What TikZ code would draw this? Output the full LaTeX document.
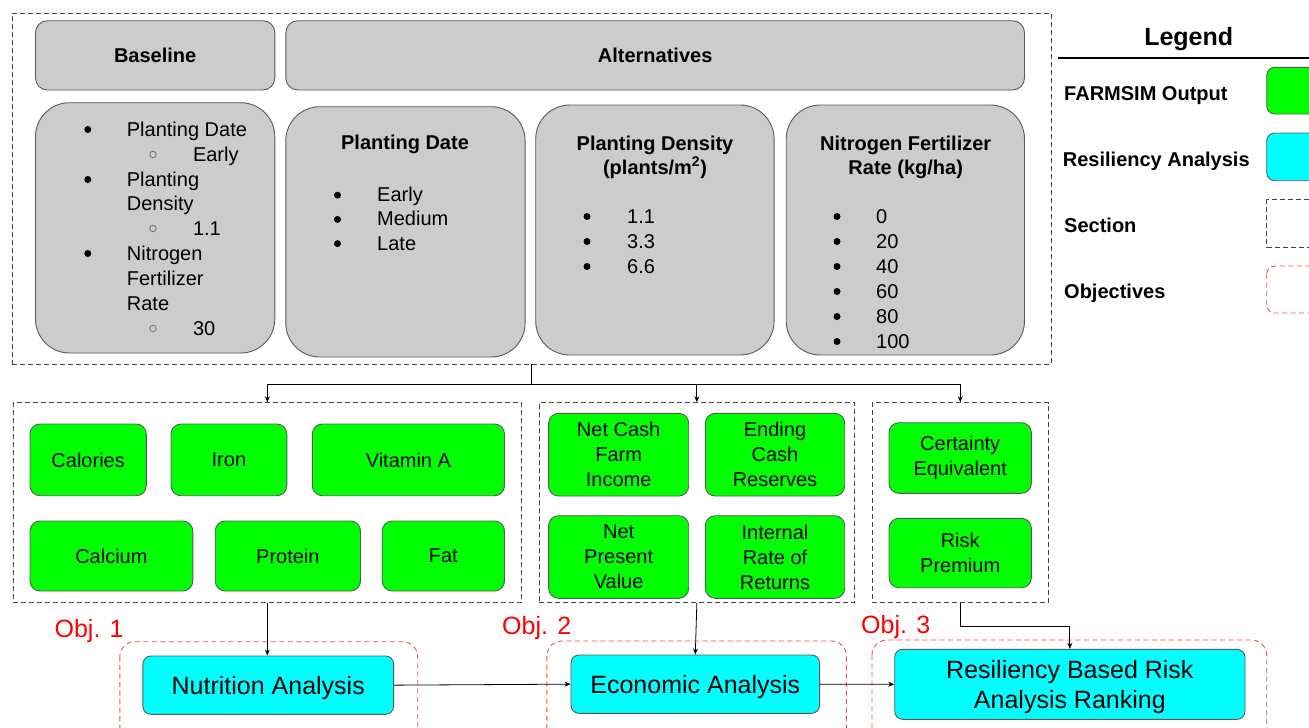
\documentclass[tikz,border=0pt]{standalone}
\usepackage{fontspec}
\setmainfont{Liberation Sans}
\usetikzlibrary{arrows.meta}
\newcommand{\setfs}[2]{\fontsize{#1}{#2}\selectfont}
\definecolor{boxgray}{HTML}{CCCCCC}
\definecolor{edgegray}{HTML}{5A5A5A}
\definecolor{outgreen}{HTML}{00FF00}
\definecolor{rescyan}{HTML}{00FFFF}
\definecolor{secline}{HTML}{444444}
\definecolor{objred}{HTML}{FF4A4A}
\definecolor{objtext}{HTML}{FF0000}
\tikzset{
  every node/.style={font=\setfs{20}{25}, inner sep=0pt},
  hdr/.style={draw=edgegray, fill=boxgray, line width=0.9pt, rounded corners=12pt, font=\bfseries\setfs{20}{25}},
  optbox/.style={draw=edgegray, fill=boxgray, line width=0.9pt, rounded corners=34pt},
  outbox/.style={draw=edgegray, fill=outgreen, line width=0.9pt, rounded corners=10pt, align=center},
  resbox/.style={draw=edgegray, fill=rescyan, line width=0.9pt, rounded corners=8pt, align=center, text depth=0pt, font=\setfs{25}{30}},
  section/.style={draw=secline, line width=0.9pt, dash pattern=on 5pt off 3pt},
  objective/.style={draw=objred, line width=0.9pt, dash pattern=on 5pt off 3.5pt, rounded corners=15pt},
  objlabel/.style={text=objtext, font=\setfs{25}{30}, anchor=base west},
  item/.style={anchor=base west},
  title/.style={anchor=base, font=\bfseries\setfs{20}{25}},
  dot/.style={circle, fill=black, minimum size=7pt},
  subdot/.style={circle, draw=black!60, line width=0.7pt, minimum size=6.5pt},
  link/.style={draw=black, line width=0.8pt},
  arr/.style={link, -{Stealth[length=6pt, width=5pt]}},
  legendlabel/.style={anchor=base west, font=\bfseries\setfs{20}{25}}
}
\begin{document}
\begin{tikzpicture}[x=1pt, y=-1pt]
\useasboundingbox (0,0) rectangle (1309,728);
\clip (0,0) rectangle (1309,728);

% ---------------- scenario section ----------------
\node[section, minimum width=1039pt, minimum height=351pt] (top) at (531.5,188.5) {};
\node[hdr, minimum width=239.3pt, minimum height=69.3pt] (basehdr) at (155.15,55.35) {Baseline};
\node[hdr, minimum width=738.7pt, minimum height=69.3pt] (althdr) at (655.15,55.35) {Alternatives};

\node[optbox, minimum width=239.3pt, minimum height=250.3pt] (basebox) at (155.15,227.85) {};
\node[optbox, minimum width=239.3pt, minimum height=250.3pt] (datebox) at (405.45,231.85) {};
\node[optbox, minimum width=238.4pt, minimum height=250pt] (densbox) at (654.9,230) {};
\node[optbox, minimum width=238.3pt, minimum height=250pt] (nitbox) at (905.35,230) {};

% baseline settings
\node[dot] (bb1) at (87.8,129.5) {};
\node[item] (bl1) at (126.7,136) {Planting Date};
\node[subdot] (bs1) at (153,154.5) {};
\node[item] (bl2) at (192.8,161) {Early};
\node[dot] (bb2) at (87.8,179.5) {};
\node[item] (bl3) at (126.7,186) {Planting};
\node[item] (bl4) at (126.7,210.5) {Density};
\node[subdot] (bs2) at (153,228.5) {};
\node[item] (bl5) at (192.8,235) {1.1};
\node[dot] (bb3) at (87.8,253.5) {};
\node[item] (bl6) at (126.7,260) {Nitrogen};
\node[item] (bl7) at (126.7,285) {Fertilizer};
\node[item] (bl8) at (126.7,310) {Rate};
\node[subdot] (bs3) at (153,328.5) {};
\node[item] (bl9) at (192.8,335) {30};

% planting date alternatives
\node[title] (datet) at (405,149.7) {Planting Date};
\foreach \t [count=\i] in {Early, Medium, Late} {
  \node[dot] (dd\i) at (337.5,{171+24.2*\i}) {};
  \node[item] (dl\i) at (377,{177.5+24.2*\i}) {\t};
}

% planting density alternatives
\node[title] (denst1) at (655,150) {Planting Density};
\node[title] (denst2) at (655,174) {(plants/m\textsuperscript{2})};
\foreach \t [count=\i] in {1.1, 3.3, 6.6} {
  \node[dot] (sd\i) at (587,{191.5+25*\i}) {};
  \node[item] (sl\i) at (627,{198+25*\i}) {\t};
}

% nitrogen rate alternatives
\node[title] (nitt1) at (905.7,150) {Nitrogen Fertilizer};
\node[title] (nitt2) at (905.7,174) {Rate (kg/ha)};
\foreach \t [count=\i] in {0, 20, 40, 60, 80, 100} {
  \node[dot] (nd\i) at (837,{191.5+25*\i}) {};
  \node[item] (nl\i) at (876,{198+25*\i}) {\t};
}

% ---------------- FARMSIM output sections ----------------
\node[section, minimum width=508.7pt, minimum height=199.6pt] (sec1) at (267.35,502.5) {};
\node[section, minimum width=315.7pt, minimum height=199.6pt] (sec2) at (696.85,502.5) {};
\node[section, minimum width=176.6pt, minimum height=199.6pt] (sec3) at (960.3,502.5) {};

\node[outbox, minimum width=116.3pt, minimum height=71.7pt] (cal) at (88.15,459.85) {Calories};
\node[outbox, minimum width=115.8pt, minimum height=71.7pt] (iron) at (228.9,459.85) {Iron};
\node[outbox, minimum width=192.2pt, minimum height=71.7pt] (vita) at (408.4,459.85) {Vitamin A};
\node[outbox, minimum width=162.8pt, minimum height=70pt] (calc) at (111.4,556) {Calcium};
\node[outbox, minimum width=145.3pt, minimum height=70pt] (prot) at (287.85,556) {Protein};
\node[outbox, minimum width=122.3pt, minimum height=70pt] (fat) at (443.35,556) {Fat};

\node[outbox, minimum width=140.1pt, minimum height=82.7pt] (ncfi) at (618.65,454.65) {Net Cash\\Farm\\Income};
\node[outbox, minimum width=139.4pt, minimum height=82.7pt] (ecr) at (775,454.65) {Ending\\Cash\\Reserves};
\node[outbox, minimum width=140.1pt, minimum height=82.6pt] (npv) at (618.65,557) {Net\\Present\\Value};
\node[outbox, minimum width=139.4pt, minimum height=82.6pt] (irr) at (775,557) {Internal\\Rate of\\Returns};

\node[outbox, minimum width=142.4pt, minimum height=70.6pt] (ce) at (960.2,458) {Certainty\\Equivalent};
\node[outbox, minimum width=142.4pt, minimum height=69.4pt] (rp) at (960.2,553) {Risk\\Premium};

% ---------------- objectives ----------------
\draw[objective] (119.8,641.7) rectangle (417.7,745);
\draw[objective] (546.9,641) rectangle (846.4,745);
\draw[objective] (872,640) rectangle (1266.7,745);
\node[objlabel] (obj1) at (54.4,637.3) {Obj. 1};
\node[objlabel] (obj2) at (502,634) {Obj. 2};
\node[objlabel] (obj3) at (861,633.3) {Obj. 3};

\node[resbox, minimum width=250.7pt, minimum height=58.3pt] (nut) at (268.25,685.15) {Nutrition Analysis};
\node[resbox, minimum width=248.6pt, minimum height=58.3pt] (econ) at (695.3,684.15) {Economic Analysis};
\node[resbox, minimum width=350.3pt, minimum height=70pt] (res) at (1069.85,684.3) {Resiliency Based Risk\\Analysis Ranking};

% ---------------- connectors ----------------
\draw[link] (top.south) -- ++(0,20) coordinate (split);
\draw[arr] (split) -| (sec1.north);
\draw[arr] (split) -| (sec2.north);
\draw[arr] (split) -| (sec3.north);
\draw[arr] (sec1.south) -- (sec1.south |- nut.north);
\draw[arr] (sec2.south) -- (econ.north);
\draw[arr] (sec3.south) -- ++(0,23.4) -| (res.north);
\draw[arr] (nut.east) -- (econ.west);
\draw[arr] (econ.east) -- (res.west);

% ---------------- legend ----------------
\node[anchor=base, font=\bfseries\setfs{25}{30}] (legt) at (1188.7,45) {Legend};
\coordinate (legl) at (1058,57.7);
\coordinate (legr) at (1320,57.7);
\draw[line width=1.6pt] (legl) -- (legr);
\node[legendlabel] (lg1) at (1064,100.7) {FARMSIM Output};
\node[legendlabel] (lg2) at (1062.7,166) {Resiliency Analysis};
\node[legendlabel] (lg3) at (1064,232) {Section};
\node[legendlabel] (lg4) at (1064,298) {Objectives};
\draw[draw=edgegray, fill=outgreen, line width=0.9pt, rounded corners=8pt] (1266.7,67.3) rectangle (1340,114);
\draw[draw=edgegray, fill=rescyan, line width=0.9pt, rounded corners=8pt] (1266.7,133) rectangle (1340,180.7);
\draw[section] (1266.7,199) rectangle (1340,247);
\draw[objective, rounded corners=8pt] (1266.7,266) rectangle (1340,313);
\end{tikzpicture}
\end{document}
